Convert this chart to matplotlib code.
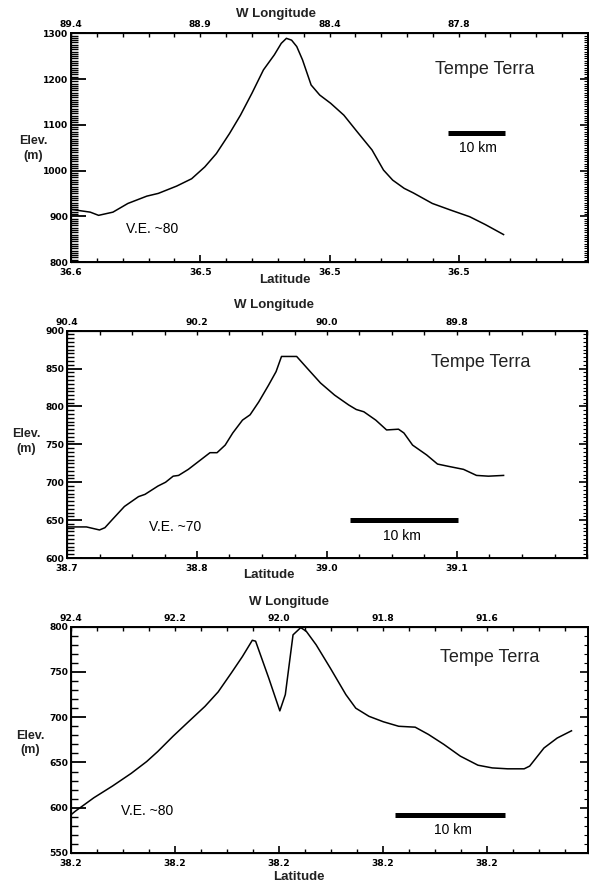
import matplotlib
matplotlib.use("Agg")
import matplotlib.pyplot as plt
from matplotlib.ticker import MultipleLocator, FixedLocator

plt.rcParams['font.family'] = ['Liberation Sans', 'DejaVu Sans']

# profile 1 - distance along profile (km) and elevation (m)
p1_km = [0.0, 3.35, 4.8, 7.3, 9.9, 13.2, 15.2, 18.4, 21.0, 23.3, 25.3, 27.6, 29.5,
         31.5, 33.5, 35.4, 36.6, 37.5, 38.4, 39.3, 40.3, 41.8, 43.3, 45.2, 47.5,
         49.8, 52.4, 54.4, 56.0, 58.0, 59.6, 62.9, 66.2, 69.4, 72.1, 75.3]
p1_elev = [915, 909, 902, 909, 928, 944, 950, 966, 982, 1008, 1037, 1081, 1121,
           1169, 1220, 1253, 1278, 1289, 1285, 1271, 1242, 1187, 1165, 1147, 1121,
           1085, 1045, 1001, 979, 961, 951, 928, 913, 899, 882, 860]
p1_lat = ['36.6', '36.5', '36.5', '36.5']
p1_lon = ['89.4', '88.9', '88.4', '87.8']

# profile 2
p2_km = [0.0, 1.8, 3.0, 3.5, 4.2, 5.3, 6.6, 7.2, 8.4, 9.1, 9.8, 10.3, 11.2, 12.2,
         13.2, 13.85, 14.6, 15.3, 16.2, 16.9, 17.7, 18.6, 19.3, 19.8, 21.2, 22.2,
         23.4, 24.7, 26.0, 26.7, 27.4, 28.5, 29.5, 30.6, 31.1, 31.9, 33.2, 34.2,
         35.2, 36.6, 37.8, 38.9, 40.3]
p2_elev = [641, 641, 637, 640, 651, 668, 681, 684, 695, 700, 708, 709, 717, 728,
           739, 739, 749, 765, 782, 789, 806, 828, 846, 866, 866, 850,
           831, 815, 802, 796, 793, 782, 769, 770, 765, 749, 736, 724,
           721, 717, 709, 708, 709]
p2_lat = ['38.7', '38.8', '39.0', '39.1']
p2_lon = ['90.4', '90.2', '90.0', '89.8']

# profile 3
p3_km = [0.0, 0.4, 2.1, 3.8, 5.5, 6.9, 7.9, 9.3, 10.7, 12.2, 13.4, 14.6, 15.6, 16.5,
         16.8, 18.0, 19.0, 19.5, 20.2, 20.9, 21.4, 22.3, 23.6, 25.0, 25.9, 27.1,
         28.4, 29.8, 31.3, 32.5, 33.9, 35.4, 37.0, 38.3, 39.7, 41.2, 41.7, 43.0,
         44.2, 45.5]
p3_elev = [592, 596, 611, 624, 638, 651, 662, 679, 695, 712, 728, 749, 767, 785,
           784, 743, 707, 725, 791, 799, 795, 780, 754, 725, 710, 701,
           695, 690, 689, 681, 670, 657, 647, 644, 643, 643, 646, 666,
           677, 685]
p3_lat = ['38.2', '38.2', '38.2', '38.2', '38.2']
p3_lon = ['92.4', '92.2', '92.0', '91.8', '91.6']

panels = [
    dict(rect=[71/589, 1-262/883, 517/589, 228.7/883], km=p1_km, elev=p1_elev,
         lat=p1_lat, lon=p1_lon, xmax=90, xstep=22.5, xminor=5,
         ylim=(800, 1300), ystep=100, yminor=20, bar=(65.6, 1082),
         ve='V.E. ~80', ve_pos=(0.157, 0.144), tt_pos=(0.80, 0.84), km_pos=(0.787, 0.498),
         lon_lab=(0.4686, 0.984), lat_lab=(0.484, 0.683), elev_lab=(0.056, 0.832)),
    dict(rect=[67/589, 1-558/883, 520/589, 227.3/883], km=p2_km, elev=p2_elev,
         lat=p2_lat, lon=p2_lon, xmax=48, xstep=12, xminor=4,
         ylim=(600, 900), ystep=50, yminor=10, bar=(26.1, 650),
         ve='V.E. ~70', ve_pos=(0.208, 0.136), tt_pos=(0.796, 0.862), km_pos=(0.644, 0.097),
         lon_lab=(0.465, 0.6546), lat_lab=(0.457, 0.349), elev_lab=(0.044, 0.50)),
    dict(rect=[70.7/589, 1-853/883, 517.3/589, 226.3/883], km=p3_km, elev=p3_elev,
         lat=p3_lat, lon=p3_lon, xmax=47, xstep=9.45, xminor=4,
         ylim=(550, 800), ystep=50, yminor=5, bar=(29.5, 592),
         ve='V.E. ~80', ve_pos=(0.147, 0.186), tt_pos=(0.81, 0.862), km_pos=(0.739, 0.10),
         lon_lab=(0.491, 0.318), lat_lab=(0.508, 0.0068), elev_lab=(0.051, 0.1586)),
]

fig = plt.figure(figsize=(5.89, 8.83), dpi=100)

tick_font = dict(family='DejaVu Sans', weight='bold', size=6.6)

for p in panels:
    ax = fig.add_axes(p['rect'])
    ax.plot(p['km'], p['elev'], color='black', linewidth=1.1)
    ax.set_xlim(0, p['xmax'])
    ax.set_ylim(*p['ylim'])

    xt = [i * p['xstep'] for i in range(len(p['lat']))]
    ax.xaxis.set_major_locator(FixedLocator(xt))
    ax.set_xticklabels(p['lat'], fontdict=tick_font)
    ax.xaxis.set_minor_locator(MultipleLocator(p['xstep'] / p['xminor']))
    ax.yaxis.set_major_locator(MultipleLocator(p['ystep']))
    ax.yaxis.set_minor_locator(MultipleLocator(p['ystep'] / p['yminor']))
    for lab in ax.get_yticklabels():
        lab.set_fontproperties(matplotlib.font_manager.FontProperties(**tick_font))
    ax.tick_params(axis='y', which='major', direction='in', length=11, width=1.3, pad=2)
    ax.tick_params(axis='y', which='minor', direction='in', length=5, width=1.0)
    ax.tick_params(axis='x', which='major', direction='in', length=5, width=1.2, pad=4)
    ax.tick_params(axis='x', which='minor', direction='in', length=3, width=1.0)
    for s in ax.spines.values():
        s.set_linewidth(1.4)

    # top longitude axis
    axt = ax.twiny()
    axt.set_xlim(0, p['xmax'])
    axt.xaxis.set_major_locator(FixedLocator(xt))
    axt.set_xticklabels(p['lon'], fontdict=tick_font)
    axt.xaxis.set_minor_locator(MultipleLocator(p['xstep'] / p['xminor']))
    axt.tick_params(axis='x', which='both', direction='in', length=3, width=1.0, pad=3)

    # right side ticks
    axr = ax.twinx()
    axr.set_ylim(*p['ylim'])
    axr.yaxis.set_major_locator(MultipleLocator(p['ystep']))
    axr.yaxis.set_minor_locator(MultipleLocator(p['ystep'] / p['yminor']))
    axr.set_yticklabels([])
    axr.tick_params(axis='y', which='major', direction='in', length=6, width=1.2)
    axr.tick_params(axis='y', which='minor', direction='in', length=3, width=0.8)

    # scale bar
    bx, by = p['bar']
    ax.plot([bx, bx + 10], [by, by], color='black', linewidth=3.6, solid_capstyle='butt')

    ax.text(*p['tt_pos'], 'Tempe Terra', transform=ax.transAxes, fontsize=13,
            ha='center', va='center', color='#222222')
    ax.text(*p['km_pos'], '10 km', transform=ax.transAxes, fontsize=10,
            ha='center', va='center')
    ax.text(*p['ve_pos'], p['ve'], transform=ax.transAxes, fontsize=10,
            ha='center', va='center')

    fig.text(*p['lon_lab'], 'W Longitude', fontsize=9.5, fontweight='bold',
             ha='center', va='center', color='#222222')
    fig.text(*p['lat_lab'], 'Latitude', fontsize=9.5, fontweight='bold',
             ha='center', va='center', color='#222222')
    fig.text(*p['elev_lab'], 'Elev.\n(m)', fontsize=9, fontweight='bold',
             ha='center', va='center', linespacing=1.3, color='#222222')

fig.savefig('out.png', dpi=100)
